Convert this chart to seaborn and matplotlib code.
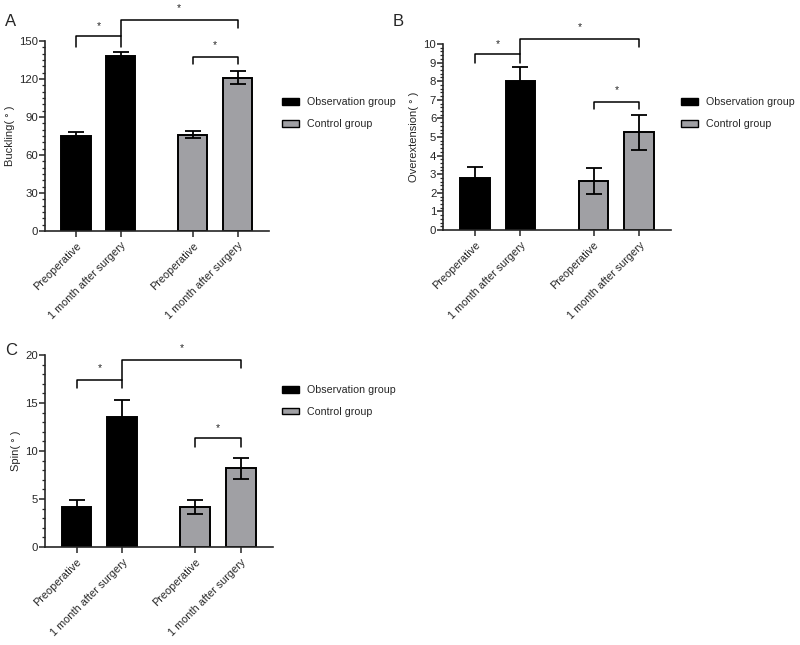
import matplotlib
matplotlib.use("Agg")
import matplotlib.pyplot as plt
from matplotlib.patches import Patch
from matplotlib.ticker import MultipleLocator
import seaborn as sns
import pandas as pd

sns.set_style("ticks")
plt.rcParams['font.family'] = ['Liberation Sans', 'DejaVu Sans']

categories = ["Preoperative", "1 month after surgery", "Preoperative", "1 month after surgery"]
groups = ["Observation group", "Observation group", "Control group", "Control group"]
positions = [0, 1, 2.6, 3.6]

buckling_mean = [75, 138, 76, 121]
buckling_err = [3, 3, 3, 5]
overext_mean = [2.8, 8.0, 2.65, 5.25]
overext_err = [0.6, 0.75, 0.7, 0.95]
spin_mean = [4.2, 13.5, 4.15, 8.2]
spin_err = [0.65, 1.8, 0.7, 1.1]

palette = {"Observation group": "#000000", "Control group": "#a0a0a4"}

fig = plt.figure(figsize=(8, 6.45), dpi=100)

panels = [
    dict(label="A", rect=[0.05625, 0.6419, 0.28, 0.2946], mean=buckling_mean, err=buckling_err,
         ylabel="Buckling( ° )", ylim=150, major=30, minor=5,
         brackets=[(0, 1, 154, 145, 145, 162), (1, 3, 166.6, 154, 160, 176), (2, 3, 137.4, 131.6, 131.6, 147)],
         legend=(0.34, 0.864), letter=(0.006, 0.978)),
    dict(label="B", rect=[0.554, 0.6434, 0.285, 0.2884], mean=overext_mean, err=overext_err,
         ylabel="Overextension( ° )", ylim=10, major=1, minor=0.2,
         brackets=[(0, 1, 9.46, 8.98, 8.98, 10.0), (1, 3, 10.26, 9.46, 9.84, 10.9), (2, 3, 6.88, 6.5, 6.5, 7.5)],
         legend=(0.839, 0.864), letter=(0.491, 0.978)),
    dict(label="C", rect=[0.05625, 0.1519, 0.285, 0.2977], mean=spin_mean, err=spin_err,
         ylabel="Spin( ° )", ylim=20, major=5, minor=1,
         brackets=[(0, 1, 17.4, 16.55, 16.55, 18.6), (1, 3, 19.5, 17.4, 18.6, 20.7), (2, 3, 11.35, 10.4, 10.4, 12.4)],
         legend=(0.34, 0.418), letter=(0.006, 0.468)),
]

for p in panels:
    ax = fig.add_axes(p["rect"])
    df = pd.DataFrame({"pos": positions, "value": p["mean"], "group": groups})
    sns.barplot(data=df, x="pos", y="value", hue="group", palette=palette, native_scale=True,
                dodge=False, width=0.65, errorbar=None, edgecolor="black", linewidth=1.4,
                legend=False, ax=ax)
    ax.errorbar(positions, p["mean"], yerr=p["err"], fmt="none", ecolor="black",
                elinewidth=1.3, capsize=5.5, capthick=1.3, zorder=1)
    ax.set_xlim(-0.69, 4.3)
    ax.set_ylim(0, p["ylim"])
    ax.yaxis.set_major_locator(MultipleLocator(p["major"]))
    ax.yaxis.set_minor_locator(MultipleLocator(p["minor"]))
    ax.set_xticks(positions)
    ax.set_xticklabels(categories, rotation=45, ha="right", rotation_mode="anchor", fontsize=7.8)
    ax.tick_params(axis="y", labelsize=8.2, length=4, width=1.1, pad=1)
    ax.tick_params(axis="y", which="minor", length=2, width=0.9)
    ax.tick_params(axis="x", length=4, width=1.1, pad=3)
    ax.set_xlabel("")
    ax.set_ylabel(p["ylabel"], fontsize=8, labelpad=3)
    for s in ["top", "right"]:
        ax.spines[s].set_visible(False)
    for s in ["left", "bottom"]:
        ax.spines[s].set_linewidth(1.2)
    for (i, j, top, bl, br, sy) in p["brackets"]:
        x1, x2 = positions[i], positions[j]
        ax.plot([x1, x1, x2, x2], [bl, top, top, br], color="black", lw=1.1, clip_on=False)
        ax.text((x1 + x2) / 2, sy, "*", ha="center", va="center", fontsize=7.5, clip_on=False)
    handles = [Patch(facecolor=palette[g], edgecolor="black", linewidth=1.0, label=g)
               for g in ["Observation group", "Control group"]]
    fig.legend(handles=handles, loc="upper left", bbox_to_anchor=p["legend"], frameon=False,
               fontsize=7.7, handlelength=1.6, handleheight=0.6, labelspacing=1.1, handletextpad=0.8)
    fig.text(p["letter"][0], p["letter"][1], p["label"], fontsize=12, va="top", ha="left")

fig.savefig("out.png", dpi=100)
